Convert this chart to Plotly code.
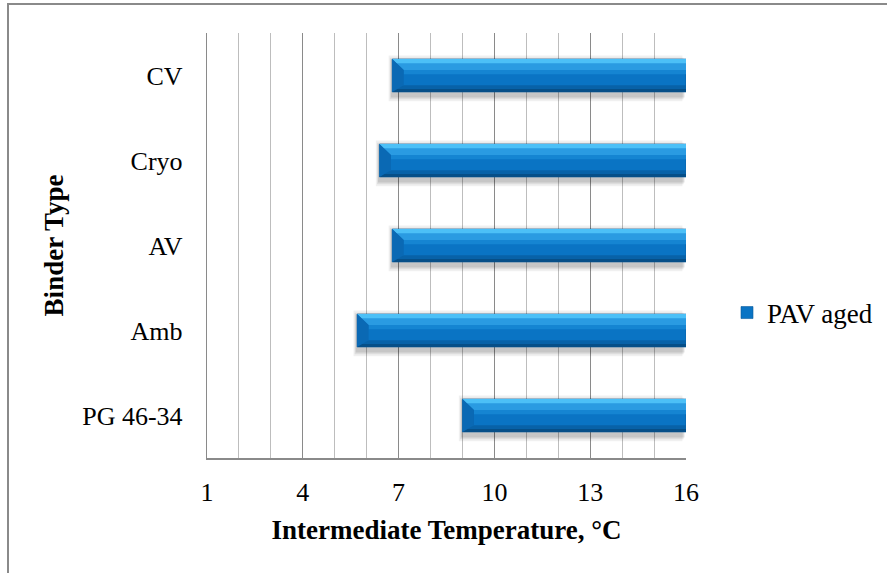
import plotly.graph_objects as go

# Binder types, bottom to top
binders = ["PG 46-34", "Amb", "AV", "Cryo", "CV"]
# Intermediate temperature (°C) after PAV aging
pav_aged = [9.0, 5.7, 6.8, 6.4, 6.8]
x_ticks = [1, 4, 7, 10, 13, 16]

X_MIN, X_MAX = 1, 16
W, H = 887, 573
M = dict(l=207, r=201, t=33, b=115, autoexpand=False)
FONT = "Liberation Serif"

pos = list(range(len(binders)))
half = 0.194          # half bar thickness in category units
span = [X_MAX - v for v in pav_aged]

fig = go.Figure()


def poly_trace(pts_fn, color, name=""):
    xs, ys = [], []
    for p, v in zip(pos, pav_aged):
        for px, py in pts_fn(p, v):
            xs.append(px)
            ys.append(py)
        xs.append(None)
        ys.append(None)
    return go.Scatter(x=xs, y=ys, mode="lines", fill="toself", fillcolor=color,
                      line=dict(width=0), hoverinfo="skip",
                      showlegend=False, name=name)


# soft drop shadow under each bar
for grow, alpha in [(0.075, 0.06), (0.05, 0.08), (0.03, 0.10)]:
    fig.add_trace(go.Bar(
        y=[p - 0.035 for p in pos], x=span, base=[v - grow * 1.5 for v in pav_aged],
        orientation="h", width=2 * half + 2 * grow,
        marker=dict(color=f"rgba(0,0,0,{alpha})", line=dict(width=0)),
        showlegend=False, hoverinfo="skip"))

# main bar body
fig.add_trace(go.Bar(
    y=pos, x=span, base=pav_aged, orientation="h", width=2 * half,
    name="PAV aged",
    marker=dict(color="#0a74c4", line=dict(width=0.6, color="#0a5a9c")),
    hovertemplate="%{y}: %{base}<extra></extra>"))

dx = 0.36   # bevel depth along x
dy = 0.13   # bevel depth along y

# bevel facets
fig.add_trace(poly_trace(lambda p, v: [(v, p + half), (X_MAX, p + half),
                                       (X_MAX, p + half - dy), (v + dx, p + half - dy)],
                         "#2a9be2"))
fig.add_trace(poly_trace(lambda p, v: [(v, p + half), (X_MAX, p + half),
                                       (X_MAX, p + half - 0.05), (v + dx * 0.38, p + half - 0.05)],
                         "#4cc0f7"))
fig.add_trace(poly_trace(lambda p, v: [(v + dx, p + half - dy), (X_MAX, p + half - dy),
                                       (X_MAX, p + half - dy - 0.05), (v + dx, p + half - dy - 0.05)],
                         "#1585d2"))
fig.add_trace(poly_trace(lambda p, v: [(v, p - half), (X_MAX, p - half),
                                       (X_MAX, p - half + dy * 0.6), (v + dx * 0.6, p - half + dy * 0.6)],
                         "#0862a8"))
fig.add_trace(poly_trace(lambda p, v: [(v, p - half), (X_MAX, p - half),
                                       (X_MAX, p - half + 0.035), (v + dx * 0.27, p - half + 0.035)],
                         "#064f88"))
fig.add_trace(poly_trace(lambda p, v: [(v, p - half), (v + dx, p - half + dy * 0.6),
                                       (v + dx, p + half - dy), (v, p + half)],
                         "#0a69b4"))

plot_w = W - M["l"] - M["r"]
plot_h = H - M["t"] - M["b"]


def px_to_paper_x(px):
    return (px - M["l"]) / plot_w


def px_to_paper_y(py):
    return (H - M["b"] - py) / plot_h


fig.update_layout(
    width=W, height=H, margin=M,
    paper_bgcolor="white", plot_bgcolor="white",
    font=dict(family=FONT, size=26, color="black"),
    barmode="overlay",
    showlegend=True,
    legend=dict(x=px_to_paper_x(727), y=px_to_paper_y(313), xanchor="left", yanchor="middle",
                bgcolor="rgba(0,0,0,0)", font=dict(family=FONT, size=27),
                itemwidth=30, traceorder="normal"),
    xaxis=dict(
        range=[X_MIN, X_MAX], tickmode="array", tickvals=x_ticks,
        ticktext=[str(t) for t in x_ticks],
        showgrid=True, gridcolor="#8a8a8a", gridwidth=1.4,
        minor=dict(dtick=1, showgrid=True, gridcolor="#bdbdbd", gridwidth=1.4, ticks=""),
        showline=True, linecolor="#8a8a8a", linewidth=1.6,
        ticks="", zeroline=False, ticklabelstandoff=10,
        tickfont=dict(family=FONT, size=26),
        title=dict(text="<b>Intermediate Temperature, °C</b>", standoff=14,
                   font=dict(family=FONT, size=27)),
    ),
    yaxis=dict(
        range=[-0.5, len(binders) - 0.5], tickmode="array", tickvals=pos, ticktext=binders,
        showgrid=False, zeroline=False, showline=True, linecolor="#8a8a8a", linewidth=1.4,
        ticks="", ticklabelstandoff=18,
        tickfont=dict(family=FONT, size=26),
        title=dict(text="<b>Binder Type</b>", standoff=10,
                   font=dict(family=FONT, size=27)),
    ),
    shapes=[dict(type="rect", xref="paper", yref="paper",
                 x0=px_to_paper_x(8), y0=px_to_paper_y(H + 40),
                 x1=px_to_paper_x(W + 40), y1=px_to_paper_y(4),
                 line=dict(color="#8a8a8a", width=2), fillcolor="rgba(0,0,0,0)",
                 layer="below")],
)

fig.write_html("out.html")
